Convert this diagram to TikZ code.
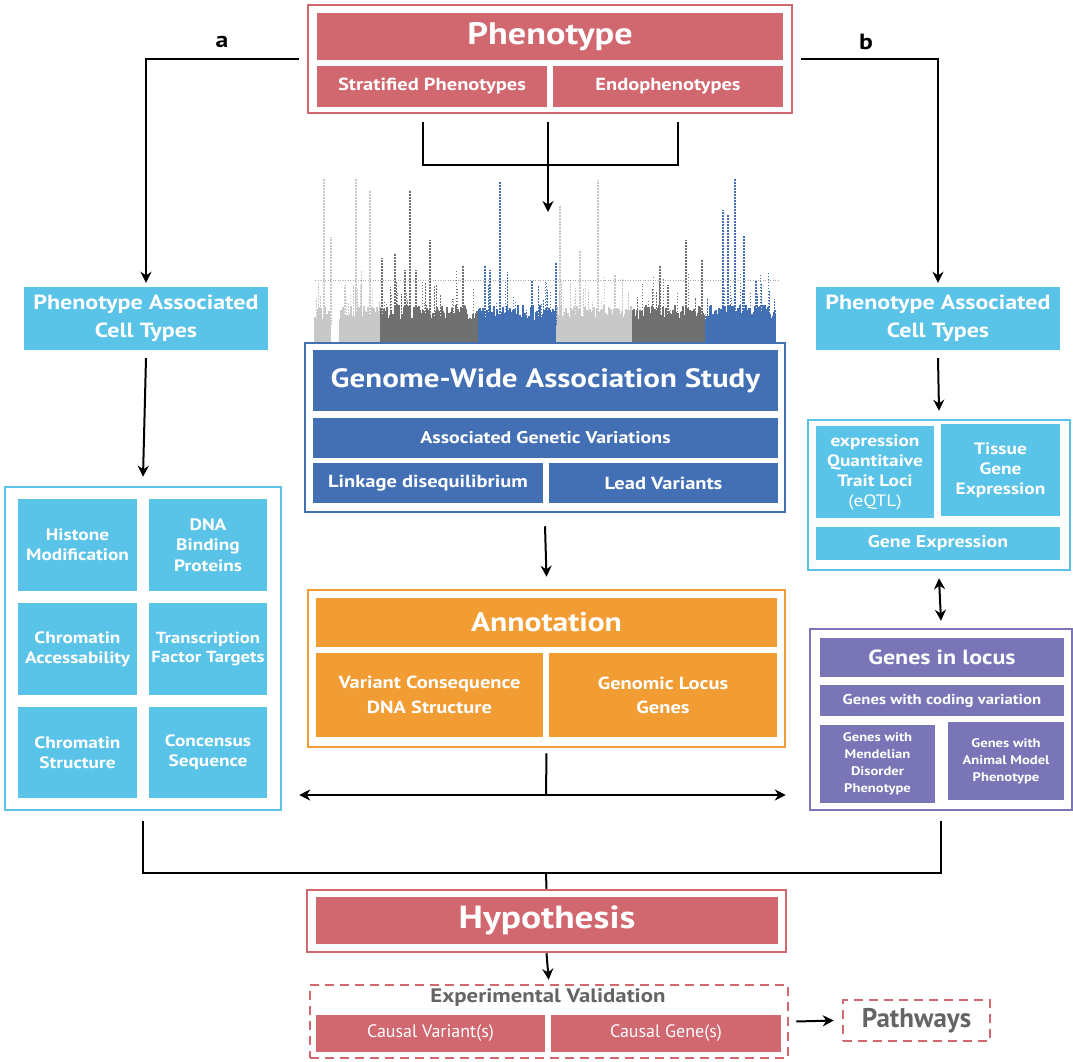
\documentclass[tikz,border=0pt]{standalone}
\usepackage{fontspec}
\setmainfont{PT Sans}[FakeStretch=1.17]
\newfontfamily\condfont{PT Sans}
\usetikzlibrary{arrows.meta}
\definecolor{phenored}{RGB}{209,103,111}
\definecolor{gwasblue}{RGB}{67,111,181}
\definecolor{annorange}{RGB}{242,156,52}
\definecolor{cellcyan}{RGB}{90,195,232}
\definecolor{locpurple}{RGB}{122,117,182}
\definecolor{txtgray}{RGB}{100,100,100}
\definecolor{lgray}{RGB}{200,200,200}
\definecolor{dgray}{RGB}{112,112,112}
\newcommand{\fs}[2]{\fontsize{#1}{#2}\selectfont}

\begin{document}
\begin{tikzpicture}[x=1pt,y=-1pt,
  sz/.style 2 args={minimum width=#1pt, minimum height=#2pt},
  frame/.style={draw=#1, line width=2.5pt, fill=white, inner sep=0pt},
  dframe/.style={draw=#1, line width=2.5pt, dash pattern=on 9pt off 6pt, fill=white, inner sep=0pt},
  cell/.style={fill=#1, text=white, align=center, inner sep=0pt, font=\bfseries},
  line/.style={line width=2pt},
  arr/.style={-{Stealth[length=11pt,width=11pt]}, line width=2pt},
  darr/.style={{Stealth[length=11pt,width=11pt]}-{Stealth[length=11pt,width=11pt]}, line width=2pt}]
\useasboundingbox (0,0) rectangle (1073,1062);

% manhattan plot
\pgfmathsetseed{42}
\foreach \xa/\xb/\col in {315/330/lgray,340/380/lgray,381/478/dgray,479/556/gwasblue,557/632/lgray,633/705/dgray,706/775/gwasblue}{
  \foreach \x in {\xa,...,\xb}{
    \pgfmathsetmacro\h{24+16*rnd}
    \draw[\col, line width=1.1pt] (\x,345) -- (\x,345-\h);
    \pgfmathsetmacro\g{rnd}
    \ifdim\g pt>0.75pt
      \pgfmathsetmacro\k{\h+5+30*rnd}
      \draw[\col, line width=0.8pt, dash pattern=on 1.5pt off 1.5pt] (\x,345-\h) -- (\x,345-\k);
    \fi
  }
}
\foreach \x/\t/\col in {324/178/lgray,331/237/lgray,345/285/lgray,356/178/lgray,361/285/lgray,370/190/lgray,
  382/258/dgray,395/253/dgray,405/270/dgray,410/190/dgray,416/270/dgray,430/240/dgray,463/265/dgray,
  485/265/gwasblue,490/270/gwasblue,500/182/gwasblue,532/280/gwasblue,556/262/gwasblue,
  560/205/lgray,580/250/lgray,598/180/lgray,615/275/lgray,
  660/265/dgray,668/285/dgray,686/240/dgray,702/260/dgray,
  723/210/gwasblue,728/215/gwasblue,735/178/gwasblue,744/235/gwasblue,756/280/gwasblue}{
  \draw[\col, line width=1.3pt, dash pattern=on 2pt off 1pt] (\x,325) -- (\x,\t);
}
\draw[gray!70, line width=0.5pt, dotted] (315,280) -- (778,280);

% frames
\node[frame=phenored, sz={484}{108}] (phen) at (550,59) {};
\node[frame=gwasblue, sz={480}{169}] (gwas) at (545,427.5) {};
\node[frame=annorange, sz={477}{157}] (annot) at (546.5,668.5) {};
\node[frame=cellcyan, sz={276}{323}] (lgrid) at (143,648.5) {};
\node[frame=cellcyan, sz={262}{150}] (rexpr) at (939,495) {};
\node[frame=locpurple, sz={262}{181}] (genes) at (941,719.5) {};
\node[frame=phenored, sz={479}{62}] (hypo) at (546.5,921) {};
\node[dframe=phenored, sz={478}{73}] (expval) at (549,1021.5) {};
\node[dframe=phenored, sz={147}{41}] (path) at (916.5,1020.5) {};

% cells
\node[cell=phenored, sz={466}{47}, font=\bfseries\fs{31}{36}] (phentitle) at (550,36.5) {Phenotype};
\node[cell=phenored, sz={230}{41}, font=\bfseries\fs{17.5}{20}] (strat) at (432,86.5) {Stratified Phenotypes};
\node[cell=phenored, sz={230}{41}, font=\bfseries\fs{17.5}{20}] (endo) at (668,86.5) {Endophenotypes};

\node[cell=gwasblue, sz={465}{61}, font=\bfseries\fs{26.5}{32}] (gwastitle) at (545.5,380.5) {Genome-Wide Association Study};
\node[cell=gwasblue, sz={465}{40}, font=\bfseries\fs{17}{20}] (assoc) at (545.5,438) {Associated Genetic Variations};
\node[cell=gwasblue, sz={230}{40}, font=\bfseries\fs{17.5}{20}] (ld) at (428,483) {Linkage disequilibrium};
\node[cell=gwasblue, sz={229}{40}, font=\bfseries\fs{17.5}{20}] (lead) at (663.5,483) {Lead Variants};

\node[cell=annorange, sz={461}{49}, font=\bfseries\fs{27}{32}] (annottitle) at (546.5,622.5) {Annotation};
\node[cell=annorange, sz={227}{84}, font=\bfseries\fs{17.5}{25}] (varcons) at (429.5,695) {Variant Consequence\\DNA Structure};
\node[cell=annorange, sz={228}{84}, font=\bfseries\fs{17.5}{24}] (genloc) at (663,695) {Genomic Locus\\Genes};

\node[cell=cellcyan, sz={244}{63}, font=\bfseries\fs{20.5}{28}] (lpact) at (146,318.5) {Phenotype Associated\\Cell Types};
\node[cell=cellcyan, sz={244}{63}, font=\bfseries\fs{20.5}{28}] (rpact) at (938,318.5) {Phenotype Associated\\Cell Types};

\node[cell=cellcyan, sz={119}{92}, font=\bfseries\fs{16.5}{20}] (histone) at (77.5,545) {Histone\\Modification};
\node[cell=cellcyan, sz={118}{92}, font=\bfseries\fs{16.5}{20.5}] (dnabind) at (208,545) {DNA\\Binding\\Proteins};
\node[cell=cellcyan, sz={119}{92}, font=\bfseries\fs{16.5}{20}] (chromacc) at (77.5,649) {Chromatin\\Accessability};
\node[cell=cellcyan, sz={118}{92}, font=\bfseries\fs{16}{20}] (tftarget) at (208,649) {Transcription\\Factor Targets};
\node[cell=cellcyan, sz={119}{91}, font=\bfseries\fs{16.5}{20}] (chromstr) at (77.5,752.5) {Chromatin\\Structure};
\node[cell=cellcyan, sz={118}{91}, font=\bfseries\fs{16.5}{20}] (concseq) at (208,752.5) {Concensus\\Sequence};

\node[cell=cellcyan, sz={118}{92}, font=\bfseries\fs{16.5}{20}] (eqtl) at (875,472) {expression\\Quantitaive\\Trait Loci\\{\mdseries(eQTL)}};
\node[cell=cellcyan, sz={119}{92}, font=\bfseries\fs{16.5}{20}] (tissue) at (1000.5,470) {Tissue\\Gene\\Expression};
\node[cell=cellcyan, sz={244}{33}, font=\bfseries\fs{17}{20}] (geneexpr) at (938,543.5) {Gene Expression};

\node[cell=locpurple, sz={244}{39}, font=\bfseries\fs{20.5}{22}] (locus) at (942,657.5) {Genes in locus};
\node[cell=locpurple, sz={244}{31}, font=\bfseries\fs{14.3}{16}] (coding) at (942,700.5) {Genes with coding variation};
\node[cell=locpurple, sz={115}{78}, font=\bfseries\fs{12.5}{17}] (mendel) at (877.5,764) {Genes with\\Mendelian\\Disorder\\Phenotype};
\node[cell=locpurple, sz={116}{78}, font=\bfseries\fs{12.5}{17}] (animal) at (1006,761) {Genes with\\Animal Model\\Phenotype};

\node[cell=phenored, sz={462}{47}, font=\bfseries\fs{32}{36}] (hypotitle) at (547,920.5) {Hypothesis};
\node[text=txtgray, font=\bfseries\fs{19.5}{22}, inner sep=0pt] (exptext) at (548,998) {Experimental Validation};
\node[cell=phenored, sz={229}{37}, font=\condfont\mdseries\fs{18}{20}] (causvar) at (430.5,1033.5) {Causal Variant(s)};
\node[cell=phenored, sz={230}{37}, font=\condfont\mdseries\fs{18}{20}] (causgene) at (666,1033.5) {Causal Gene(s)};
\node[text=txtgray, font=\condfont\bfseries\fs{27}{28}, inner sep=0pt] (pathtext) at (916.5,1020.5) {Pathways};

\node[font=\bfseries\fs{22}{24}, inner sep=0pt] (la) at (222,42) {a};
\node[font=\bfseries\fs{22}{24}, inner sep=0pt] (lb) at (866,42) {b};

% connectors
\coordinate (bl) at (423,122);
\coordinate (br) at (678,122);
\coordinate (bm) at (548,165);
\coordinate (bt) at (548,122);
\coordinate (manh) at (548,212);
\coordinate (split) at (546,795);
\coordinate (join) at (546,873);
\draw[arr] ([xshift=-8pt]phen.west) -| ([yshift=4pt]lpact.north);
\draw[arr] ([xshift=8pt]phen.east) -| ([yshift=4pt]rpact.north);
\draw[line] (bl) |- (bm) -| (br);
\draw[arr] (bt) -- (manh);
\draw[arr] ([yshift=-13pt]gwas.south) -- ([yshift=12pt]annot.north);
\draw[line] ([yshift=-5pt]annot.south) -- (split);
\draw[arr] (split) -- ([xshift=17pt]lgrid.east |- split);
\draw[arr] (split) -- ([xshift=-23pt]genes.west |- split);
\draw[arr] ([yshift=-8pt]lpact.south) -- ([yshift=9pt]lgrid.north);
\draw[arr] ([yshift=-8pt]rpact.south) -- ([yshift=8pt]rexpr.north);
\draw[darr] ([yshift=-7pt]rexpr.south) -- ([yshift=7pt]genes.north);
\draw[line] ([yshift=-10pt]lgrid.south) |- (join) -| ([yshift=-10pt]genes.south);
\draw[line] (join) -- (hypo.north);
\draw[arr, shorten >=4pt] (hypo.south) -- (expval.north);
\draw[arr] ([xshift=7pt]expval.east) -- ([xshift=-8pt]path.west);
\end{tikzpicture}
\end{document}
